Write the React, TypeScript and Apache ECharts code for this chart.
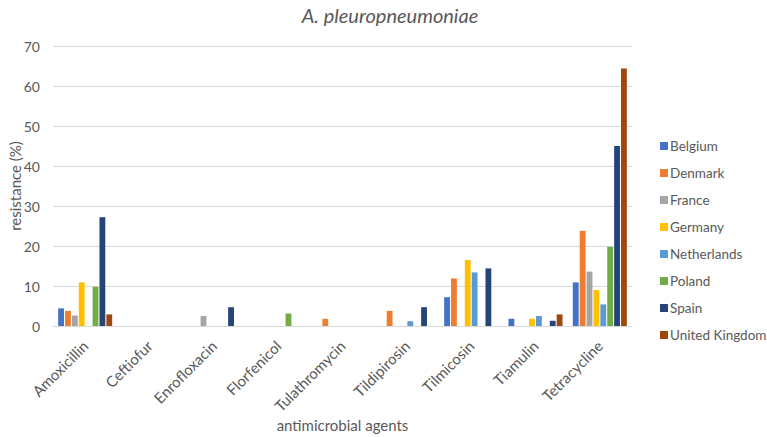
import React, { useEffect, useRef } from "react";
import * as echarts from "echarts";

const agents = [
  "Amoxicillin",
  "Ceftiofur",
  "Enrofloxacin",
  "Florfenicol",
  "Tulathromycin",
  "Tildipirosin",
  "Tilmicosin",
  "Tiamulin",
  "Tetracycline",
];

const countries = [
  "Belgium",
  "Denmark",
  "France",
  "Germany",
  "Netherlands",
  "Poland",
  "Spain",
  "United Kingdom",
];

const colors = ["#4472C4", "#ED7D31", "#A5A5A5", "#FFC000", "#5B9BD5", "#70AD47", "#264478", "#9E480E"];

// resistance (%) per agent, in the order of `agents`
const belgium = [4.4, 0, 0, 0, 0, 0, 7.2, 1.8, 10.9];
const denmark = [3.8, 0, 0, 0, 1.8, 3.8, 11.9, 0, 23.8];
const france = [2.6, 0, 2.5, 0, 0, 0, 0, 0, 13.6];
const germany = [10.9, 0, 0, 0, 0, 0, 16.5, 1.8, 9.0];
const netherlands = [0, 0, 0, 0, 0, 1.2, 13.4, 2.5, 5.4];
const poland = [9.8, 0, 0, 3.1, 0, 0, 0, 0, 19.8];
const spain = [27.2, 0, 4.7, 0, 0, 4.7, 14.4, 1.3, 45.0];
const unitedKingdom = [2.9, 0, 0, 0, 0, 0, 0, 2.9, 64.4];

const seriesValues = [belgium, denmark, france, germany, netherlands, poland, spain, unitedKingdom];

const yTicks = { min: 0, max: 70, interval: 10 };

const FONT = "Lato, 'Open Sans', sans-serif";
const TEXT = "#595959";

export default function App() {
  const ref = useRef<HTMLDivElement>(null);

  useEffect(() => {
    if (!ref.current) return;
    document.body.style.margin = "0";
    const chart = echarts.init(ref.current, undefined, { renderer: "svg" });
    chart.setOption({
      animation: false,
      backgroundColor: "#ffffff",
      textStyle: { fontFamily: FONT },
      title: {
        text: "A. pleuropneumoniae",
        left: 385,
        top: 0,
        textAlign: "center",
        textStyle: {
          fontFamily: FONT,
          fontStyle: "italic",
          fontWeight: "normal",
          fontSize: 20,
          color: TEXT,
        },
      },
      legend: {
        orient: "vertical",
        left: 655,
        top: 134,
        itemWidth: 8,
        itemHeight: 8,
        itemGap: 13,
        icon: "rect",
        textStyle: { fontFamily: FONT, fontSize: 13.5, color: TEXT, padding: [0, 0, 0, -3] },
        data: countries,
      },
      grid: {
        left: 53,
        right: 135,
        top: 46,
        bottom: 111,
        containLabel: false,
        outerBoundsMode: "none",
      },
      xAxis: {
        type: "category",
        data: agents,
        name: "antimicrobial agents",
        nameLocation: "middle",
        nameGap: 91,
        nameMoveOverlap: false,
        nameTextStyle: { fontFamily: FONT, fontSize: 15, color: TEXT },
        axisLine: { lineStyle: { color: "#d9d9d9" } },
        axisTick: { show: false },
        axisLabel: {
          rotate: 45,
          fontFamily: FONT,
          fontSize: 15,
          color: TEXT,
          margin: 17,
        },
      },
      yAxis: {
        type: "value",
        min: yTicks.min,
        max: yTicks.max,
        interval: yTicks.interval,
        name: "resistance (%)",
        nameLocation: "middle",
        nameGap: 31,
        nameMoveOverlap: false,
        nameTextStyle: { fontFamily: FONT, fontSize: 15, color: TEXT },
        axisLine: { show: false },
        axisTick: { show: false },
        axisLabel: { fontFamily: FONT, fontSize: 14, color: TEXT, margin: 13 },
        splitLine: { lineStyle: { color: "#d9d9d9", width: 1 } },
      },
      series: countries.map((name, i) => ({
        name,
        type: "bar",
        data: seriesValues[i],
        itemStyle: { color: colors[i] },
        barGap: "18%",
        barCategoryGap: "16%",
      })),
    });
    return () => chart.dispose();
  }, []);

  return <div ref={ref} style={{ width: 767, height: 437 }} />;
}
